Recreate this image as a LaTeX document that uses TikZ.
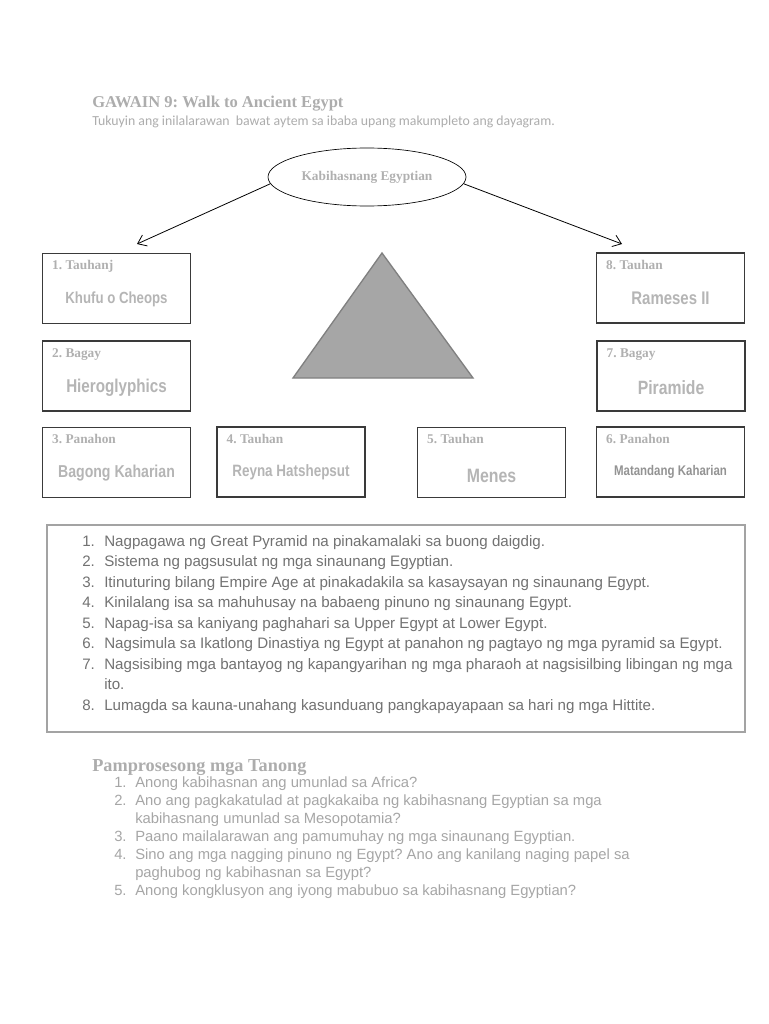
\documentclass[tikz,border=0pt]{standalone}
\usepackage{fontspec}
\setmainfont{Liberation Sans}
\newfontfamily\headfont{Liberation Serif}
\newfontfamily\notefont{Carlito}
\newfontfamily\narrowfont[FakeStretch=0.82]{Liberation Sans}
\usetikzlibrary{shapes.geometric,arrows.meta}
\frenchspacing

\definecolor{headgray}{HTML}{ADADAD}
\definecolor{listgray}{HTML}{727272}
\definecolor{askgray}{HTML}{A6A6A6}
\definecolor{taggray}{HTML}{B0B0B0}
\definecolor{answergray}{HTML}{B5B5B5}
\definecolor{boxline}{HTML}{3A3A3A}
\definecolor{framegray}{HTML}{A3A3A3}
\definecolor{pyrfill}{HTML}{A6A6A6}
\definecolor{pyrline}{HTML}{808080}

\tikzset{
  answer/.style={draw=boxline, line width=0.9pt, minimum width=111pt,
    minimum height=52.5pt, inner sep=0pt},
  boxtag/.style={anchor=base west, inner sep=0pt, text=taggray,
    font=\headfont\bfseries\fontsize{10}{12}\selectfont},
  answertext/.style={inner sep=0pt, text=answergray,
    font=\narrowfont\bfseries\fontsize{#1}{15}\selectfont},
  listline/.style={anchor=base west, inner sep=0pt, text=listgray,
    font=\fontsize{11.35}{13}\selectfont},
  qline/.style={anchor=base west, inner sep=0pt, text=askgray,
    font=\fontsize{11.1}{13}\selectfont},
  arrowline/.style={-{Straight Barb[length=6pt,width=9pt]}, line width=0.6pt}
}

\begin{document}
\begin{tikzpicture}[x=0.75pt,y=-0.75pt]
  \fill[white] (0,0) rectangle (768,1024);
  \useasboundingbox (0,0) rectangle (768,1024);

  % heading
  \node (title) [anchor=base west, inner sep=0pt, text=headgray,
    font=\headfont\bfseries\fontsize{12.4}{14}\selectfont] at (92,108)
    {GAWAIN 9: Walk to Ancient Egypt};
  \node (intro) [anchor=base west, inner sep=0pt, text=headgray,
    font=\notefont\fontsize{10.35}{12}\selectfont] at (92,125)
    {Tukuyin ang inilalarawan \ bawat aytem sa ibaba upang makumpleto ang dayagram.};

  % ellipse and arrows
  \node (E) [ellipse, draw, line width=0.5pt, minimum width=148.5pt,
    minimum height=43.5pt, inner sep=0pt, text=taggray,
    font=\headfont\bfseries\fontsize{10}{12}\selectfont] at (367,177)
    {Kabihasnang Egyptian};
  \coordinate (A1) at (137,244);
  \coordinate (A8) at (622,244);
  \draw [arrowline] (E.184) -- (A1);
  \draw [arrowline] (E.356) -- (A8);

  % answer boxes
  \node (B1) [answer] at (116.5,288.5) {};
  \node (B8) [answer] at (670.5,288) {};
  \node (B2) [answer] at (116.5,376) {};
  \node (B7) [answer] at (671,376) {};
  \node (B3) [answer] at (116.5,462.5) {};
  \node (B4) [answer] at (291,462) {};
  \node (B5) [answer] at (491.5,462.5) {};
  \node (B6) [answer] at (670.5,462) {};

  \node (T1) [boxtag] at ([shift={(10,17)}]B1.north west) {1. Tauhanj};
  \node (T8) [boxtag] at ([shift={(10,17)}]B8.north west) {8. Tauhan};
  \node (T2) [boxtag] at ([shift={(10,17)}]B2.north west) {2. Bagay};
  \node (T7) [boxtag] at ([shift={(10,17)}]B7.north west) {7. Bagay};
  \node (T3) [boxtag] at ([shift={(10,17)}]B3.north west) {3. Panahon};
  \node (T4) [boxtag] at ([shift={(10,17)}]B4.north west) {4. Tauhan};
  \node (T5) [boxtag] at ([shift={(10,17)}]B5.north west) {5. Tauhan};
  \node (T6) [boxtag] at ([shift={(10,17)}]B6.north west) {6. Panahon};

  \node (N1) [answertext=12.1] at ([yshift=-8pt]B1.center) {Khufu o Cheops};
  \node (N8) [answertext=13.7] at ([yshift=-8pt]B8.center) {Rameses II};
  \node (N2) [answertext=13.9] at ([yshift=-8.5pt]B2.center) {Hieroglyphics};
  \node (N7) [answertext=14.4] at ([yshift=-8.5pt]B7.center) {Piramide};
  \node (N3) [answertext=12.9] at ([yshift=-8pt]B3.center) {Bagong Kaharian};
  \node (N4) [answertext=12.3] at ([yshift=-8pt]B4.center) {Reyna Hatshepsut};
  \node (N5) [answertext=14.5] at ([yshift=-10pt]B5.center) {Menes};
  \node (N6) [answertext=10.5, text=gray!85] at ([yshift=-7.5pt]B6.center) {Matandang Kaharian};

  % pyramid
  \filldraw [fill=pyrfill, draw=pyrline, line width=1pt]
    (382,253) -- (293,378) -- (473,378) -- cycle;

  % descriptions
  \node (LB) [draw=framegray, line width=1.3pt, minimum width=523.5pt,
    minimum height=155pt, inner sep=0pt] at (396,628.5) {};
  \node (L1) [listline] at (82,546) {\makebox[16.5pt][l]{1.}Nagpagawa ng Great Pyramid na pinakamalaki sa buong daigdig.};
  \node (L2) [listline] at (82,566.5) {\makebox[16.5pt][l]{2.}Sistema ng pagsusulat ng mga sinaunang Egyptian.};
  \node (L3) [listline] at (82,587) {\makebox[16.5pt][l]{3.}Itinuturing bilang Empire Age at pinakadakila sa kasaysayan ng sinaunang Egypt.};
  \node (L4) [listline] at (82,607.5) {\makebox[16.5pt][l]{4.}Kinilalang isa sa mahuhusay na babaeng pinuno ng sinaunang Egypt.};
  \node (L5) [listline] at (82,628) {\makebox[16.5pt][l]{5.}Napag-isa sa kaniyang paghahari sa Upper Egypt at Lower Egypt.};
  \node (L6) [listline] at (82,648.5) {\makebox[16.5pt][l]{6.}Nagsimula sa Ikatlong Dinastiya ng Egypt at panahon ng pagtayo ng mga pyramid sa Egypt.};
  \node (L7) [listline] at (82,669) {\makebox[16.5pt][l]{7.}Nagsisibing mga bantayog ng kapangyarihan ng mga pharaoh at nagsisilbing libingan ng mga};
  \node (L7b) [listline] at (104,689.5) {ito.};
  \node (L8) [listline] at (82,710) {\makebox[16.5pt][l]{8.}Lumagda sa kauna-unahang kasunduang pangkapayapaan sa hari ng mga Hittite.};

  % questions
  \node (QH) [anchor=base west, inner sep=0pt, text=headgray,
    font=\headfont\bfseries\fontsize{13.7}{15}\selectfont] at (92,771)
    {Pamprosesong mga Tanong};
  \node (Q1) [qline] at (114,787) {\makebox[15.75pt][l]{1.}Anong kabihasnan ang umunlad sa Africa?};
  \node (Q2) [qline] at (114,805) {\makebox[15.75pt][l]{2.}Ano ang pagkakatulad at pagkakaiba ng kabihasnang Egyptian sa mga};
  \node (Q2b) [qline] at (135,823) {kabihasnang umunlad sa Mesopotamia?};
  \node (Q3) [qline] at (114,841) {\makebox[15.75pt][l]{3.}Paano mailalarawan ang pamumuhay ng mga sinaunang Egyptian.};
  \node (Q4) [qline] at (114,859) {\makebox[15.75pt][l]{4.}Sino ang mga nagging pinuno ng Egypt? Ano ang kanilang naging papel sa};
  \node (Q4b) [qline] at (135,877) {paghubog ng kabihasnan sa Egypt?};
  \node (Q5) [qline] at (114,895) {\makebox[15.75pt][l]{5.}Anong kongklusyon ang iyong mabubuo sa kabihasnang Egyptian?};
\end{tikzpicture}
\end{document}
